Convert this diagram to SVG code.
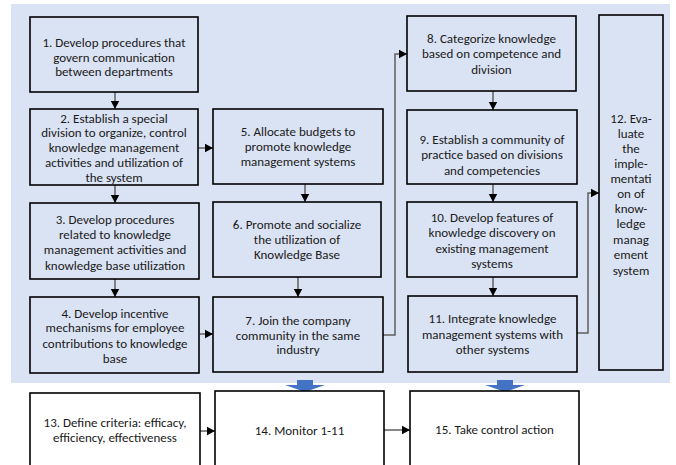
<svg xmlns="http://www.w3.org/2000/svg" width="676" height="465" viewBox="0 0 676 465">
<defs>
<style>
.bx{fill:#DAE3F3;stroke:#000;stroke-width:1.6}
.wb{fill:#fff;stroke:#000;stroke-width:1.6}
.t{font-family:Carlito,"Liberation Sans",sans-serif;font-size:13px;fill:#1a1a1a;text-anchor:middle}
.c{fill:none;stroke:#5f5f5f;stroke-width:1.5;marker-end:url(#ah)}
.blk{fill:#4472C4}
</style>
<marker id="ah" markerUnits="userSpaceOnUse" markerWidth="10" markerHeight="10" refX="8" refY="5" orient="auto">
<path d="M0,0.8 L8,5 L0,9.2 Z" fill="#000"/>
</marker>
</defs>
<rect x="0" y="0" width="676" height="465" fill="#fff"/>
<rect x="11" y="4" width="659" height="379" fill="#DAE3F3"/>

<g id="connectors">
<path class="c" d="M115,92 V109"/>
<path class="c" d="M115,185 V203"/>
<path class="c" d="M115,279 V297"/>
<path class="c" d="M198,148 H213"/>
<path class="c" d="M200,334 H213"/>
<path class="c" d="M305,184 V202"/>
<path class="c" d="M298,277 V297"/>
<path class="c" d="M383,335 H395 V54 H407"/>
<path class="c" d="M493,91 V110"/>
<path class="c" d="M493,184 V202"/>
<path class="c" d="M493,277 V296"/>
<path class="c" d="M577,333 H588 V193 H599"/>
<path class="c" d="M200,431 H215"/>
<path class="c" d="M384,430 H410"/>
<polygon class="blk" points="297,380 313,380 313,385 325,385 305,392 285,385 297,385"/>
<polygon class="blk" points="497,380 513,380 513,385 525,385 505,392 485,385 497,385"/>
</g>

<g id="n1"><rect class="bx" x="30" y="17" width="168" height="75"/>
<text class="t"><tspan x="114" y="47">1. Develop procedures that</tspan><tspan x="114" y="62">govern communication</tspan><tspan x="114" y="76">between departments</tspan></text></g>

<g id="n2"><rect class="bx" x="30" y="109" width="168" height="76"/>
<text class="t"><tspan x="114" y="122.5">2. Establish a special</tspan><tspan x="114" y="137">division to organize, control</tspan><tspan x="114" y="151.5">knowledge management</tspan><tspan x="114" y="166.5">activities and utilization of</tspan><tspan x="114" y="181.5">the system</tspan></text></g>

<g id="n3"><rect class="bx" x="30" y="203" width="169" height="76"/>
<text class="t"><tspan x="115" y="223.5">3. Develop procedures</tspan><tspan x="115" y="238.5">related to knowledge</tspan><tspan x="115" y="253.5">management activities and</tspan><tspan x="115" y="269.5">knowledge base utilization</tspan></text></g>

<g id="n4"><rect class="bx" x="30" y="297" width="169" height="76"/>
<text class="t"><tspan x="115" y="317.5">4. Develop incentive</tspan><tspan x="115" y="332">mechanisms for employee</tspan><tspan x="115" y="347.5">contributions to knowledge</tspan><tspan x="115" y="362.5">base</tspan></text></g>

<g id="n5"><rect class="bx" x="213" y="109" width="170" height="75"/>
<text class="t"><tspan x="298" y="136">5. Allocate budgets to</tspan><tspan x="298" y="151">promote knowledge</tspan><tspan x="298" y="165.5">management systems</tspan></text></g>

<g id="n6"><rect class="bx" x="213" y="202" width="168" height="75"/>
<text class="t"><tspan x="297" y="228.5">6. Promote and socialize</tspan><tspan x="297" y="243.5">the utilization of</tspan><tspan x="297" y="258.5">Knowledge Base</tspan></text></g>

<g id="n7"><rect class="bx" x="213" y="297" width="170" height="75"/>
<text class="t"><tspan x="298" y="324.5">7. Join the company</tspan><tspan x="298" y="339.5">community in the same</tspan><tspan x="298" y="353.5">industry</tspan></text></g>

<g id="n8"><rect class="bx" x="407" y="16" width="169" height="75"/>
<text class="t"><tspan x="491.5" y="42.5">8. Categorize knowledge</tspan><tspan x="491.5" y="58">based on competence and</tspan><tspan x="491.5" y="73.5">division</tspan></text></g>

<g id="n9"><rect class="bx" x="407" y="110" width="170" height="74"/>
<text class="t"><tspan x="492" y="143.5">9. Establish a community of</tspan><tspan x="492" y="158.5">practice based on divisions</tspan><tspan x="492" y="174.5">and competencies</tspan></text></g>

<g id="n10"><rect class="bx" x="407" y="202" width="170" height="75"/>
<text class="t"><tspan x="492" y="221.5">10. Develop features of</tspan><tspan x="492" y="236.5">knowledge discovery on</tspan><tspan x="492" y="252.5">existing management</tspan><tspan x="492" y="267.5">systems</tspan></text></g>

<g id="n11"><rect class="bx" x="408" y="296" width="169" height="76"/>
<text class="t"><tspan x="492.5" y="322.5">11. Integrate knowledge</tspan><tspan x="492.5" y="338.5">management systems with</tspan><tspan x="492.5" y="353.5">other systems</tspan></text></g>

<g id="n12"><rect class="bx" x="599" y="15" width="64" height="355"/>
<text class="t"><tspan x="631" y="122.5">12. Eva-</tspan><tspan x="631" y="137.5">luate</tspan><tspan x="631" y="152.5">the</tspan><tspan x="631" y="167.5">imple-</tspan><tspan x="631" y="182.5">mentati</tspan><tspan x="631" y="197.5">on of</tspan><tspan x="631" y="212.5">know-</tspan><tspan x="631" y="227.5">ledge</tspan><tspan x="631" y="243.5">manag</tspan><tspan x="631" y="258.5">ement</tspan><tspan x="631" y="274.5">system</tspan></text></g>

<g id="n13"><rect class="wb" x="30" y="393" width="170" height="85"/>
<text class="t"><tspan x="115" y="426.5">13. Define criteria: efficacy,</tspan><tspan x="115" y="441.5">efficiency, effectiveness</tspan></text></g>

<g id="n14"><rect class="wb" x="215" y="391" width="169" height="87"/>
<text class="t"><tspan x="299.5" y="434.5">14. Monitor 1-11</tspan></text></g>

<g id="n15"><rect class="wb" x="410" y="391" width="169" height="87"/>
<text class="t"><tspan x="494.5" y="433.5">15. Take control action</tspan></text></g>
</svg>
